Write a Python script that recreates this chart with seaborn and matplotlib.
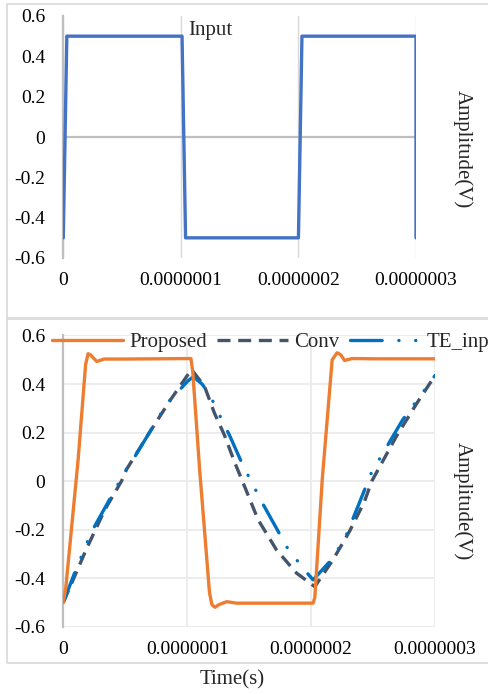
import matplotlib
matplotlib.use("Agg")
import matplotlib.pyplot as plt
from matplotlib.patches import Rectangle
import seaborn as sns
import pandas as pd

# ---------------- data (time in units of 1e-7 s, amplitude in V) ----------------
t_input = [0.0, 0.03, 1.01, 1.04, 2.00, 2.03, 3.00, 3.00]
v_input = [-0.5, 0.5, 0.5, -0.5, -0.5, 0.5, 0.5, -0.5]

t_proposed = [0.0, 0.02, 0.12, 0.18, 0.20, 0.22, 0.27, 0.33, 0.50, 1.03, 1.045, 1.10,
              1.18, 1.20, 1.225, 1.26, 1.32, 1.40, 2.016, 2.03, 2.09, 2.17, 2.21,
              2.24, 2.27, 2.33, 2.50, 3.00]
v_proposed = [-0.5, -0.44, 0.09, 0.48, 0.525, 0.52, 0.493, 0.503, 0.503, 0.505, 0.45, 0.05,
              -0.46, -0.51, -0.52, -0.508, -0.497, -0.503, -0.503, -0.48, 0.007, 0.50, 0.529,
              0.52, 0.497, 0.505, 0.504, 0.504]

t_conv = [0.0, 0.19, 0.336, 0.47, 0.51, 0.713, 0.86, 0.96, 1.035, 1.14, 1.22, 1.30,
          1.384, 1.44, 1.572, 1.72, 1.882, 2.03, 2.177, 2.31, 2.43, 2.49, 2.69, 2.85, 3.00]
v_conv = [-0.5, -0.276, -0.117, 0.0, 0.048, 0.214, 0.331, 0.405, 0.46, 0.39, 0.28, 0.19,
          0.076, 0.007, -0.159, -0.283, -0.379, -0.435, -0.324, -0.207, -0.085, 0.0,
          0.186, 0.318, 0.435]

t_te = [0.0, 0.09, 0.23, 0.336, 0.524, 0.565, 0.834, 1.008, 1.05, 1.12, 1.183, 1.237,
        1.344, 1.44, 1.505, 1.613, 1.734, 1.80, 1.935, 2.016, 2.177, 2.285, 2.39,
        2.487, 2.742, 2.863, 3.00]
v_te = [-0.5, -0.38, -0.207, -0.11, 0.062, 0.09, 0.318, 0.414, 0.43, 0.40, 0.355, 0.297,
        0.186, 0.076, 0.01, -0.096, -0.207, -0.269, -0.359, -0.407, -0.317, -0.221,
        -0.089, 0.035, 0.255, 0.338, 0.435]

x_ticks = [0.0, 1.0, 2.0, 3.0]
x_tick_labels = ["0", "0.0000001", "0.0000002", "0.0000003"]
y_ticks = [-0.6, -0.4, -0.2, 0.0, 0.2, 0.4, 0.6]
y_tick_labels = ["-0.6", "-0.4", "-0.2", "0", "0.2", "0.4", "0.6"]

SCALE = 1e-7

df_in = pd.DataFrame({"t": [v * SCALE for v in t_input], "v": v_input})
df_prop = pd.DataFrame({"t": [v * SCALE for v in t_proposed], "v": v_proposed})
df_conv = pd.DataFrame({"t": [v * SCALE for v in t_conv], "v": v_conv})
df_te = pd.DataFrame({"t": [v * SCALE for v in t_te], "v": v_te})

# ---------------- style ----------------
sns.set_theme(style="white")
plt.rcParams["font.family"] = ["Liberation Serif", "DejaVu Serif"]
plt.rcParams["axes.unicode_minus"] = False

W, H = 489, 694
fig = plt.figure(figsize=(W / 100, H / 100), dpi=100)

# panel frames
for (y0, y1) in [(4, 318), (318.5, 662.7)]:
    fig.patches.append(Rectangle((7.3 / W, 1 - y1 / H), 1.2, (y1 - y0) / H,
                                 transform=fig.transFigure, fill=False,
                                 edgecolor="#D9D9D9", linewidth=1.2, zorder=0))

def px_axes(l, r, t, b):
    return [l / W, 1 - b / H, (r - l) / W, (b - t) / H]

ax1 = fig.add_axes(px_axes(63.3, 416, 16, 258))
ax2 = fig.add_axes(px_axes(63.3, 435, 335.5, 626.7))

TICK_FS = 14
LAB_FS = 15

for ax in (ax1, ax2):
    ax.set_facecolor("none")
    ax.set_xlim(0, 3 * SCALE)
    ax.set_ylim(-0.6, 0.6)
    ax.set_xticks([v * SCALE for v in x_ticks])
    ax.set_xticklabels(x_tick_labels)
    ax.set_yticks(y_ticks)
    ax.set_yticklabels(y_tick_labels)
    ax.tick_params(axis="both", length=0, labelsize=TICK_FS, colors="#000000")
    ax.tick_params(axis="y", pad=13)
    ax.tick_params(axis="x", pad=10)
    for s in ("top", "right", "bottom"):
        ax.spines[s].set_visible(False)
    ax.spines["left"].set_color("#BFBFBF")
    ax.spines["left"].set_linewidth(1.6)
    ax.spines["left"].set_zorder(3)

# ---- top panel ----
ax1.grid(axis="x", color="#D9D9D9", linewidth=1.0)
ax1.grid(axis="y", visible=False)
ax1.axhline(0, color="#BFBFBF", linewidth=1.6, zorder=1)
sns.lineplot(data=df_in, x="t", y="v", ax=ax1, estimator=None, sort=False,
             color="#4472C4", linewidth=2.4, zorder=4, legend=False)
ax1.set_title("Input", x=(188 - 63.3) / (416 - 63.3), y=(258 - 31) / 242, pad=0,
              ha="left", va="center", fontsize=LAB_FS)
ax1.set_xlabel("")
ax1.set_ylabel("Amplitude(V)", fontsize=LAB_FS, rotation=-90)
ax1.yaxis.set_label_position("right")
ax1.yaxis.set_label_coords((463 - 63.3) / (416 - 63.3), (258 - 149) / 242)
ax1.yaxis.label.set_va("center")
ax1.yaxis.label.set_ha("center")

# ---- bottom panel ----
ax2.grid(True, color="#EBEBEB", linewidth=1.3)
sns.lineplot(data=df_prop, x="t", y="v", ax=ax2, estimator=None, sort=False,
             color="#ED7D31", linewidth=2.4, zorder=5, label="Proposed")
sns.lineplot(data=df_conv, x="t", y="v", ax=ax2, estimator=None, sort=False,
             color="#44546A", linewidth=2.4, zorder=4, label="Conv",
             linestyle=(0, (3.9, 2.3)))
sns.lineplot(data=df_te, x="t", y="v", ax=ax2, estimator=None, sort=False,
             color="#0070C0", linewidth=2.4, zorder=4, label="TE_inp",
             linestyle=(0, (9.5, 5.0, 0.05, 5.0, 0.05, 5.0)),
             dash_capstyle="round")
ax2.set_xlabel("Time(s)", fontsize=LAB_FS)
ax2.xaxis.set_label_coords((232.5 - 63.3) / (435 - 63.3), (626.7 - 680) / 291.2)
ax2.xaxis.label.set_va("center")
ax2.set_ylabel("Amplitude(V)", fontsize=LAB_FS, rotation=-90)
ax2.yaxis.set_label_position("right")
ax2.yaxis.set_label_coords((463 - 63.3) / (435 - 63.3), (626.7 - 501) / 291.2)
ax2.yaxis.label.set_va("center")
ax2.yaxis.label.set_ha("center")

leg = ax2.legend(loc="center left", bbox_to_anchor=(52 / W, 1 - 342 / H),
                 bbox_transform=fig.transFigure, ncol=3, frameon=False,
                 fontsize=LAB_FS, handlelength=3.4, handletextpad=0.3,
                 columnspacing=0.5, borderpad=0, borderaxespad=0)

fig.savefig("out.png", dpi=100)
